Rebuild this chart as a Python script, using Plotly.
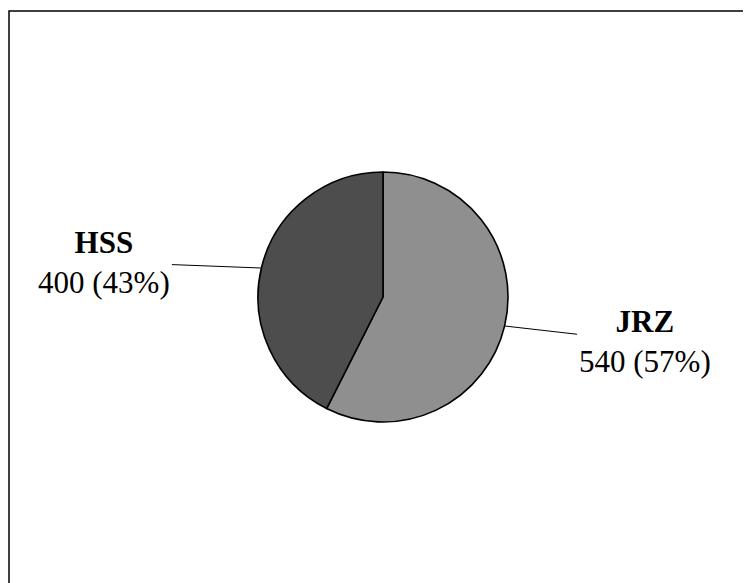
import math
import plotly.graph_objects as go

W, H = 751, 583

# DATA:
labels = ['JRZ', 'HSS']
values = [540, 400]
slice_colors = ['#8f8f8f', '#4d4d4d']

# label offsets from the slice edge, in pixels
label_ax = [140, -157]
label_ay = [16, -6]

FONT = 'Liberation Serif, Times New Roman, serif'

# pie geometry (pixels, page has an 8px body margin)
CX, CY, R = 375, 289, 125

fig = go.Figure(go.Pie(
    labels=labels,
    values=values,
    sort=False,
    direction='clockwise',
    rotation=0,
    textinfo='none',
    hoverinfo='label+value+percent',
    marker=dict(colors=slice_colors, line=dict(color='black', width=1.6)),
    domain=dict(x=[(CX - R) / W, (CX + R) / W], y=[1 - (CY + R) / H, 1 - (CY - R) / H]),
    showlegend=False
))

total = sum(values)
cum = 0
annotations = []
for lab, val, ax, ay in zip(labels, values, label_ax, label_ay):
    mid = (cum + val / 2) / total * 2 * math.pi
    cum += val
    hx = (CX + R * math.sin(mid)) / W
    hy = 1 - (CY - R * math.cos(mid)) / H
    pct = round(val / total * 100)
    annotations.append(dict(
        x=hx, y=hy, xref='paper', yref='paper',
        text=f'<b>{lab}</b><br>{val} ({pct}%)',
        showarrow=True, arrowhead=0, arrowwidth=1, arrowcolor='black',
        ax=ax, ay=ay, align='center',
        font=dict(family=FONT, size=31, color='black')
    ))

fig.update_layout(
    width=W,
    height=H,
    margin=dict(t=0, b=0, l=0, r=0),
    paper_bgcolor='white',
    plot_bgcolor='white',
    annotations=annotations,
    shapes=[dict(
        type='rect', xref='paper', yref='paper',
        x0=1 / W, x1=1.02, y0=-0.02, y1=1 - 3 / H,
        line=dict(color='black', width=1.5)
    )]
)

fig.write_html('out.html')
